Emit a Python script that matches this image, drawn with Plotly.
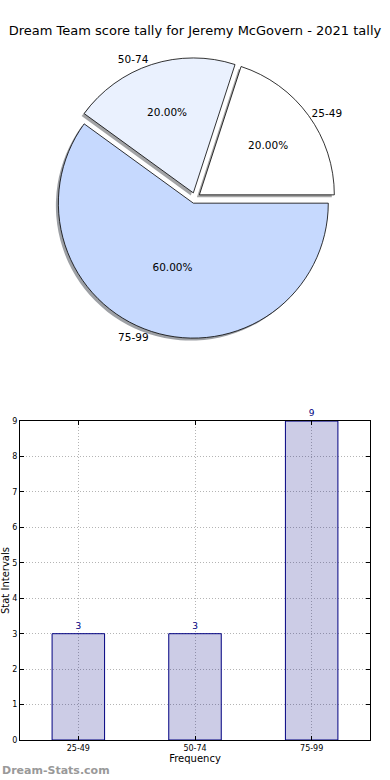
import plotly.graph_objects as go

# ---- data ----
categories = ["25-49", "50-74", "75-99"]
counts = [3, 3, 9]
y_ticks = [0, 1, 2, 3, 4, 5, 6, 7, 8, 9]

title_text = "Dream Team score tally for Jeremy McGovern - 2021 tally"
slice_colors = ["#FFFFFF", "#EAF1FE", "#C6D9FE"]
shadow_colors = ["rgba(77,77,77,0.5)", "rgba(70,72,76,0.5)", "rgba(59,65,76,0.5)"]
pull = [0.04, 0.04, 0.04]

# first slice begins at 3 o'clock and runs counter-clockwise (matplotlib style)
rotation = 90 - 360 * counts[0] / sum(counts)

# pie domain (paper coords, plot area is 350 x 740 px)
cx, cy = 0.5, 0.7324
hx, hy = 0.401, 0.1897
sx, sy = -2.5 / 350, -2.5 / 740

fig = go.Figure()

# shadow pie
fig.add_trace(go.Pie(
    labels=categories, values=counts, sort=False, direction="counterclockwise",
    rotation=rotation, pull=pull,
    marker=dict(colors=shadow_colors, line=dict(width=0)),
    textinfo="none", hoverinfo="skip", showlegend=False,
    domain=dict(x=[cx - hx + sx, cx + hx + sx], y=[cy - hy + sy, cy + hy + sy]),
))

# main pie with percentages
fig.add_trace(go.Pie(
    labels=categories, values=counts, sort=False, direction="counterclockwise",
    rotation=rotation, pull=pull,
    marker=dict(colors=slice_colors, line=dict(color="black", width=0.8)),
    texttemplate="%{percent:.2%}", textposition="inside",
    insidetextorientation="horizontal",
    textfont=dict(family="DejaVu Sans", size=10.5, color="black"),
    showlegend=False,
    domain=dict(x=[cx - hx, cx + hx], y=[cy - hy, cy + hy]),
))

# transparent pie for outside labels
fig.add_trace(go.Pie(
    labels=categories, values=counts, sort=False, direction="counterclockwise",
    rotation=rotation, pull=pull,
    marker=dict(colors=["rgba(0,0,0,0)"] * 3, line=dict(width=0)),
    texttemplate="%{label}", textposition="outside",
    textfont=dict(family="DejaVu Sans", size=10.5, color="black"),
    hoverinfo="skip", showlegend=False,
    domain=dict(x=[cx - hx, cx + hx], y=[cy - hy, cy + hy]),
))

# bar chart
fig.add_trace(go.Bar(
    x=categories, y=counts, width=0.45,
    marker=dict(color="rgba(0,0,128,0.2)", line=dict(color="#000080", width=1)),
    text=counts, texttemplate="%{y}", textposition="outside",
    textfont=dict(family="DejaVu Sans", size=9, color="#000080"),
    cliponaxis=False, showlegend=False,
))

axis_common = dict(
    showline=True, linecolor="black", linewidth=1, mirror="ticks",
    ticks="inside", ticklen=4, tickcolor="black",
    showgrid=True, gridcolor="#b4b4b4", griddash="1px,2px", gridwidth=1,
    zeroline=False, automargin=False,
    tickfont=dict(family="DejaVu Sans", size=8, color="black"),
)

fig.update_layout(
    width=390, height=780,
    margin=dict(l=20, r=20, t=0, b=40, autoexpand=False),
    paper_bgcolor="white", plot_bgcolor="white",
    font=dict(family="DejaVu Sans", color="black"),
    title=dict(text=title_text, x=0.5, xanchor="center", xref="container",
               y=1 - 30 / 780, yanchor="middle", yref="container",
               font=dict(family="DejaVu Sans", size=13, color="black")),
    xaxis=dict(domain=[0, 1], range=[-0.5, 2.5],
               title=dict(text="Frequency", font=dict(size=10), standoff=2),
               **axis_common),
    yaxis=dict(domain=[0, 0.431], range=[0, 9], tickvals=y_ticks,
               title=dict(text="Stat Intervals", font=dict(size=10), standoff=2),
               **axis_common),
    annotations=[dict(
        text="<b>Dream-Stats.com</b>", xref="paper", yref="paper",
        x=-20 / 350, y=-30 / 740, xanchor="left", yanchor="middle",
        showarrow=False, font=dict(family="DejaVu Sans", size=11, color="#999999"),
    )],
)

fig.write_html(
    "out.html",
    config={"displayModeBar": False},
    post_script="document.body.style.margin='0';document.body.style.overflow='hidden';",
)
